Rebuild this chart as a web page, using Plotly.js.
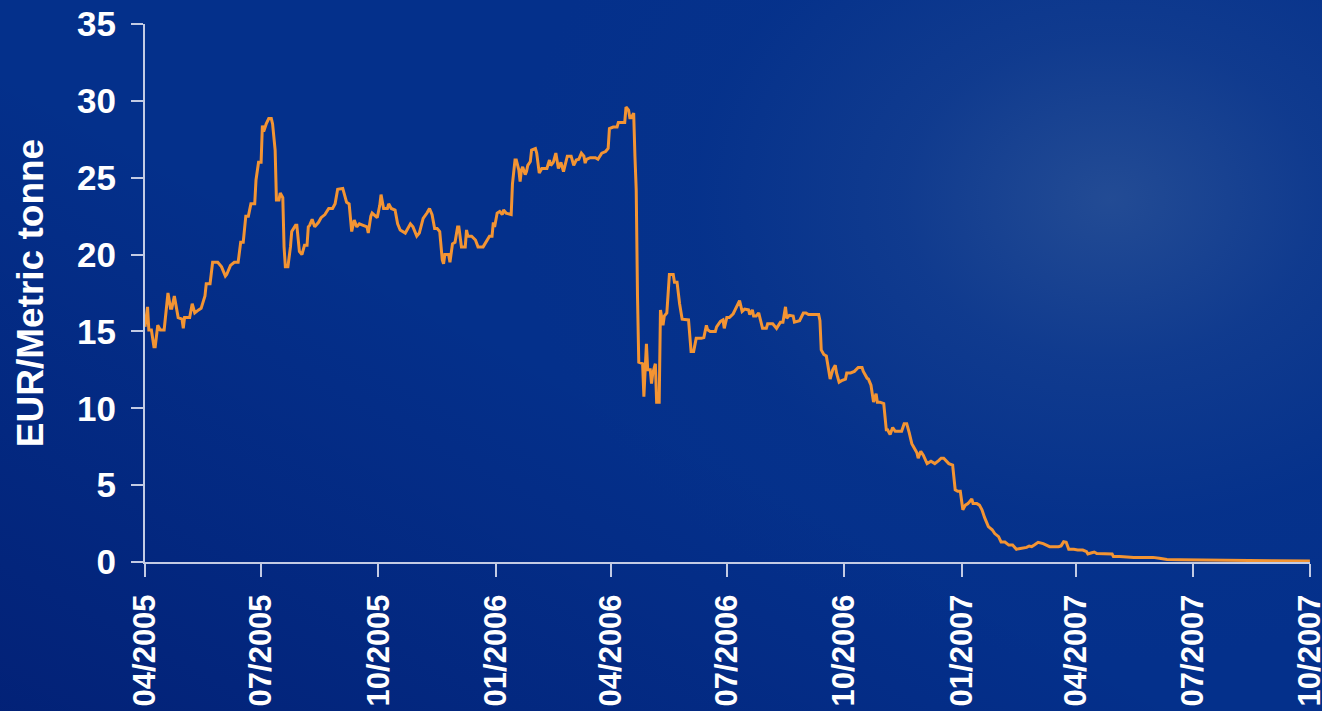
<!DOCTYPE html>
<html>
<head>
<meta charset="utf-8">
<script src="https://cdn.plot.ly/plotly-3.0.1.min.js"></script>
<style>
  html, body { margin: 0; padding: 0; width: 1322px; height: 711px; overflow: hidden; }
  body {
    background:
      linear-gradient(to top right, rgba(0, 12, 90, 0.40) 0%, rgba(0, 12, 90, 0.0) 45%),
      radial-gradient(ellipse 45% 65% at 84% 28%, rgba(40,80,150,0.85) 0%, rgba(24,66,145,0.6) 35%, rgba(10,55,140,0.25) 70%, rgba(3,45,138,0) 100%),
      #04308b;
  }
  #chart { width: 1322px; height: 711px; }
</style>
</head>
<body>
<div id="chart"></div>
<script>
// EUA price (EUR per metric tonne)
const dates = [
  '2005-04-01','2005-04-03','2005-04-04','2005-04-06','2005-04-08','2005-04-09','2005-04-11','2005-04-13','2005-04-16','2005-04-19',
  '2005-04-21','2005-04-22','2005-04-24','2005-04-27','2005-04-30','2005-05-01','2005-05-02','2005-05-06','2005-05-08','2005-05-10',
  '2005-05-13','2005-05-15','2005-05-18','2005-05-19','2005-05-22','2005-05-24','2005-05-28','2005-05-31','2005-06-03','2005-06-04',
  '2005-06-07','2005-06-10','2005-06-13','2005-06-15','2005-06-17','2005-06-19','2005-06-21','2005-06-23','2005-06-26','2005-06-27',
  '2005-06-29','2005-07-01','2005-07-02','2005-07-03','2005-07-05','2005-07-07','2005-07-09','2005-07-10','2005-07-12','2005-07-13',
  '2005-07-15','2005-07-16','2005-07-18','2005-07-19','2005-07-20','2005-07-22','2005-07-24','2005-07-25','2005-07-28','2005-07-29',
  '2005-07-31','2005-08-02','2005-08-04','2005-08-06','2005-08-07','2005-08-08','2005-08-10','2005-08-12','2005-08-15','2005-08-17',
  '2005-08-20','2005-08-23','2005-08-26','2005-08-28','2005-08-30','2005-09-03','2005-09-06','2005-09-08','2005-09-10','2005-09-12',
  '2005-09-14','2005-09-16','2005-09-19','2005-09-22','2005-09-23','2005-09-25','2005-09-26','2005-09-30','2005-10-02','2005-10-03',
  '2005-10-05','2005-10-08','2005-10-09','2005-10-11','2005-10-14','2005-10-16','2005-10-18','2005-10-22','2005-10-24','2005-10-26',
  '2005-10-28','2005-10-31','2005-11-02','2005-11-05','2005-11-08','2005-11-10','2005-11-12','2005-11-14','2005-11-16','2005-11-18',
  '2005-11-20','2005-11-21','2005-11-22','2005-11-25','2005-11-26','2005-11-28','2005-11-30','2005-12-02','2005-12-03','2005-12-05',
  '2005-12-08','2005-12-09','2005-12-10','2005-12-13','2005-12-16','2005-12-18','2005-12-22','2005-12-25','2005-12-27','2005-12-29',
  '2005-12-30','2005-12-31','2006-01-02','2006-01-04','2006-01-06','2006-01-07','2006-01-09','2006-01-13','2006-01-14','2006-01-16',
  '2006-01-17','2006-01-19','2006-01-20','2006-01-21','2006-01-22','2006-01-24','2006-01-25','2006-01-26','2006-01-28','2006-01-29',
  '2006-02-01','2006-02-02','2006-02-04','2006-02-06','2006-02-10','2006-02-12','2006-02-13','2006-02-15','2006-02-17','2006-02-19',
  '2006-02-21','2006-02-23','2006-02-26','2006-03-01','2006-03-03','2006-03-05','2006-03-07','2006-03-09','2006-03-11','2006-03-12',
  '2006-03-13','2006-03-16','2006-03-20','2006-03-22','2006-03-25','2006-03-28','2006-03-30','2006-03-31','2006-04-03','2006-04-06',
  '2006-04-07','2006-04-12','2006-04-13','2006-04-15','2006-04-16','2006-04-17','2006-04-19','2006-04-20','2006-04-21','2006-04-22',
  '2006-04-23','2006-04-26','2006-04-27','2006-04-29','2006-04-30','2006-05-02','2006-05-03','2006-05-04','2006-05-06','2006-05-07',
  '2006-05-09','2006-05-10','2006-05-12','2006-05-13','2006-05-15','2006-05-17','2006-05-20','2006-05-21','2006-05-23','2006-05-25',
  '2006-05-27','2006-06-01','2006-06-03','2006-06-05','2006-06-07','2006-06-11','2006-06-13','2006-06-15','2006-06-16','2006-06-18',
  '2006-06-22','2006-06-23','2006-06-26','2006-06-28','2006-06-29','2006-07-01','2006-07-03','2006-07-06','2006-07-09','2006-07-11',
  '2006-07-13','2006-07-15','2006-07-18','2006-07-19','2006-07-21','2006-07-22','2006-07-24','2006-07-26','2006-07-29','2006-08-01',
  '2006-08-02','2006-08-06','2006-08-09','2006-08-12','2006-08-14','2006-08-16','2006-08-17','2006-08-19','2006-08-22','2006-08-23',
  '2006-08-27','2006-08-30','2006-09-01','2006-09-03','2006-09-11','2006-09-12','2006-09-13','2006-09-15','2006-09-17','2006-09-18',
  '2006-09-20','2006-09-22','2006-09-24','2006-09-25','2006-09-27','2006-09-29','2006-10-02','2006-10-03','2006-10-06','2006-10-09',
  '2006-10-12','2006-10-15','2006-10-16','2006-10-19','2006-10-20','2006-10-22','2006-10-23','2006-10-24','2006-10-26','2006-10-27',
  '2006-10-29','2006-11-01','2006-11-03','2006-11-04','2006-11-06','2006-11-08','2006-11-10','2006-11-15','2006-11-17','2006-11-19',
  '2006-11-21','2006-11-23','2006-11-25','2006-11-27','2006-11-28','2006-11-30','2006-12-02','2006-12-05','2006-12-08','2006-12-11',
  '2006-12-14','2006-12-16','2006-12-18','2006-12-22','2006-12-25','2006-12-27','2006-12-29','2006-12-31','2007-01-02','2007-01-04',
  '2007-01-06','2007-01-09','2007-01-10','2007-01-13','2007-01-15','2007-01-17','2007-01-19','2007-01-22','2007-01-25','2007-01-27',
  '2007-01-30','2007-02-01','2007-02-04','2007-02-07','2007-02-10','2007-02-13','2007-02-16','2007-02-21','2007-02-23','2007-02-25',
  '2007-02-27','2007-03-02','2007-03-06','2007-03-09','2007-03-11','2007-03-18','2007-03-20','2007-03-22','2007-03-24','2007-03-26',
  '2007-03-30','2007-04-02','2007-04-06','2007-04-09','2007-04-10','2007-04-13','2007-04-15','2007-04-17','2007-04-22','2007-04-29',
  '2007-04-30','2007-05-05','2007-05-16','2007-05-31','2007-06-05','2007-06-11','2007-06-21','2007-07-12','2007-08-07','2007-09-02',
  '2007-10-01'
];
const prices = [
  15.3, 16.6, 15.1, 15.1, 14.0, 14.0, 15.4, 15.1, 15.1, 17.5,
  16.5, 16.5, 17.3, 15.9, 15.8, 15.2, 15.9, 15.9, 16.8, 16.2,
  16.4, 16.5, 17.3, 18.1, 18.1, 19.5, 19.5, 19.2, 18.6, 18.7,
  19.3, 19.5, 19.5, 20.8, 20.8, 22.5, 22.5, 23.3, 23.3, 24.85,
  26.0, 26.0, 28.4, 28.0, 28.5, 28.85, 28.85, 28.5, 26.8, 23.55,
  23.55, 24.0, 23.7, 20.5, 19.2, 19.2, 20.5, 21.5, 21.9, 21.9,
  20.2, 20.0, 20.6, 20.6, 21.8, 21.9, 22.3, 21.8, 22.1, 22.4,
  22.6, 23.0, 23.0, 23.3, 24.25, 24.3, 23.4, 23.3, 21.5, 22.25,
  21.8, 22.0, 21.9, 21.8, 21.4, 22.5, 22.7, 22.4, 23.2, 23.9,
  23.0, 23.0, 23.3, 23.0, 22.9, 22.0, 21.6, 21.4, 21.7, 22.0,
  21.8, 21.2, 21.4, 22.35, 22.7, 23.0, 22.6, 21.7, 21.7, 21.5,
  19.65, 19.4, 20.0, 20.0, 19.5, 20.7, 20.8, 21.8, 21.8, 20.5,
  20.5, 21.6, 21.2, 21.2, 20.95, 20.5, 20.5, 20.95, 21.2, 21.2,
  22.1, 21.8, 22.7, 22.8, 22.6, 22.9, 22.7, 22.6, 24.6, 26.15,
  26.15, 25.5, 24.75, 25.5, 25.7, 25.2, 25.4, 25.8, 26.05, 26.8,
  26.9, 26.6, 25.3, 25.6, 25.6, 26.15, 25.8, 26.0, 26.6, 25.6,
  26.0, 25.4, 26.4, 26.4, 25.8, 26.15, 26.2, 26.6, 26.4, 25.95,
  26.2, 26.3, 26.3, 26.2, 26.6, 26.7, 26.9, 28.2, 28.3, 28.3,
  28.6, 28.6, 29.6, 29.4, 28.9, 28.9, 29.2, 26.4, 24.2, 17.3,
  13.0, 12.9, 10.75, 14.2, 12.5, 12.5, 11.6, 12.3, 12.9, 10.4,
  10.4, 16.4, 15.4, 16.0, 16.2, 18.7, 18.7, 18.2, 18.2, 16.8,
  15.8, 15.75, 13.7, 13.7, 14.55, 14.55, 14.6, 15.4, 15.1, 15.0,
  15.0, 15.3, 15.65, 15.75, 15.2, 15.9, 15.9, 16.15, 16.6, 17.0,
  16.3, 16.45, 16.4, 16.1, 16.4, 16.0, 16.0, 16.2, 15.2, 15.2,
  15.5, 15.5, 15.2, 15.6, 15.6, 16.6, 15.85, 16.05, 16.0, 15.6,
  15.7, 16.2, 16.2, 16.1, 16.1, 15.7, 13.8, 13.5, 13.4, 12.8,
  11.9, 12.5, 12.8, 12.3, 11.7, 11.8, 11.9, 12.3, 12.3, 12.4,
  12.65, 12.65, 12.4, 11.95, 11.9, 11.5, 10.95, 10.4, 10.95, 10.4,
  10.4, 10.3, 8.6, 8.6, 8.3, 8.75, 8.5, 8.5, 9.0, 9.0,
  8.4, 7.7, 7.4, 7.1, 6.75, 7.2, 6.95, 6.4, 6.55, 6.4,
  6.6, 6.75, 6.75, 6.4, 6.3, 4.7, 4.6, 4.6, 3.4, 3.7,
  3.8, 4.1, 3.8, 3.8, 3.7, 3.4, 2.9, 2.3, 2.1, 1.85,
  1.65, 1.3, 1.3, 1.1, 1.1, 0.83, 0.88, 0.95, 1.04, 1.0,
  1.1, 1.28, 1.2, 1.1, 1.0, 1.0, 1.05, 1.32, 1.28, 0.83,
  0.83, 0.78, 0.78, 0.67, 0.52, 0.6, 0.65, 0.55, 0.52, 0.52,
  0.35, 0.35, 0.3, 0.3, 0.24, 0.17, 0.15, 0.12, 0.1, 0.08,
  0.06
];
const xTickVals = ['2005-04-01','2005-07-01','2005-10-01','2006-01-01','2006-04-01','2006-07-01',
                   '2006-10-01','2007-01-01','2007-04-01','2007-07-01','2007-10-01'];
const xTickText = ['04/2005','07/2005','10/2005','01/2006','04/2006','07/2006',
                   '10/2006','01/2007','04/2007','07/2007','10/2007'];
const yTickVals = [0, 5, 10, 15, 20, 25, 30, 35];
const yTitle = 'EUR/Metric tonne';

const FONT = 'Arial, "Liberation Sans", Helvetica, sans-serif';
const AXIS_COLOR = '#c3cbe4';

const trace = {
  x: dates,
  y: prices,
  type: 'scatter',
  mode: 'lines',
  line: { color: '#f39433', width: 3 },
  cliponaxis: false,
  hoverinfo: 'x+y'
};

const layout = {
  width: 1322,
  height: 711,
  margin: { l: 145, r: 12, t: 24, b: 149, pad: 0 },
  paper_bgcolor: 'rgba(0,0,0,0)',
  plot_bgcolor: 'rgba(0,0,0,0)',
  showlegend: false,
  xaxis: {
    type: 'date',
    range: ['2005-04-01', '2007-10-01 02:00'],
    tickmode: 'array',
    tickvals: xTickVals,
    ticktext: xTickText,
    tickangle: -90,
    ticks: 'outside',
    ticklen: 13,
    tickwidth: 2,
    tickcolor: AXIS_COLOR,
    ticklabelstandoff: 5,
    ticklabeloverflow: 'allow',
    showline: true,
    linecolor: AXIS_COLOR,
    linewidth: 2,
    showgrid: false,
    zeroline: false,
    tickfont: { family: FONT, size: 31, color: '#ffffff', weight: 'bold' }
  },
  yaxis: {
    range: [0, 35],
    tickmode: 'array',
    tickvals: yTickVals,
    ticks: 'outside',
    ticklen: 12,
    tickwidth: 2,
    tickcolor: AXIS_COLOR,
    ticklabelstandoff: 8,
    showline: true,
    linecolor: AXIS_COLOR,
    linewidth: 2,
    showgrid: false,
    zeroline: false,
    tickfont: { family: FONT, size: 35, color: '#ffffff', weight: 'bold' },
    title: {
      text: yTitle,
      standoff: 22,
      font: { family: FONT, size: 37, color: '#ffffff', weight: 'bold' }
    }
  }
};

Plotly.newPlot('chart', [trace], layout, { displayModeBar: false, staticPlot: true });
</script>
</body>
</html>
